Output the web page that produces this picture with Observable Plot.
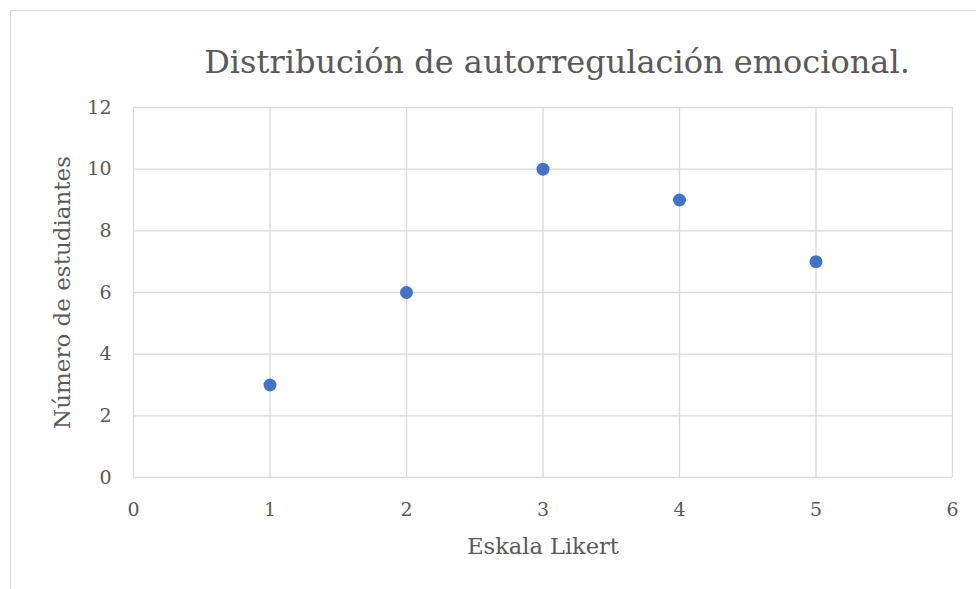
<!DOCTYPE html>
<html>
<head>
<meta charset="utf-8">
<script src="https://cdn.jsdelivr.net/npm/d3@7"></script>
<script src="https://cdn.jsdelivr.net/npm/@observablehq/plot@0.6"></script>
<style>
  html, body { margin: 0; padding: 0; background: #fff; }
  #wrap { position: relative; width: 976px; height: 589px; overflow: hidden; }
  #border { position: absolute; left: 10px; top: 10px; width: 1000px; height: 1000px; border: 1px solid #d9d9d9; box-sizing: border-box; }
  #chart { position: absolute; left: 0; top: 0; }
</style>
</head>
<body>
<div id="wrap"><div id="border"></div><div id="chart"></div></div>
<script>
const title = "Distribución de autorregulación emocional.";
const xLabel = "Eskala Likert";
const yLabel = "Número de estudiantes";
const likert = [1, 2, 3, 4, 5];
const students = [3, 6, 10, 9, 7];
const xTicks = [0, 1, 2, 3, 4, 5, 6];
const yTicks = [0, 2, 4, 6, 8, 10, 12];

const data = likert.map((x, i) => ({x, y: students[i]}));
const font = "'DejaVu Serif', serif";

const plot = Plot.plot({
  width: 976,
  height: 589,
  marginLeft: 133,
  marginRight: 24,
  marginTop: 107,
  marginBottom: 112,
  style: {fontFamily: font, background: "transparent", overflow: "visible"},
  x: {domain: [0, 6], label: null},
  y: {domain: [0, 12], label: null},
  marks: [
    Plot.ruleX(xTicks, {stroke: "#d9d9d9", strokeWidth: 1.3}),
    Plot.ruleY(yTicks, {stroke: "#d9d9d9", strokeWidth: 1.3}),
    Plot.axisX({ticks: xTicks, tickFormat: d3.format("d"), tickSize: 0, tickPadding: 25, fontSize: 19, fill: "#595959", label: null}),
    Plot.axisY({ticks: yTicks, tickFormat: d3.format("d"), tickSize: 0, tickPadding: 22, fontSize: 19, fill: "#595959", label: null}),
    Plot.dot(data, {x: "x", y: "y", r: 6.5, fill: "#4472c4", stroke: "none"}),
    Plot.text([title], {frameAnchor: "top", dy: -57, dx: 14, fontSize: 32, fill: "#595959", fontFamily: font}),
    Plot.text([xLabel], {frameAnchor: "bottom", dy: 76, fontSize: 22.5, fill: "#595959", fontFamily: font}),
    Plot.text([yLabel], {frameAnchor: "left", dx: -71, rotate: -90, textAnchor: "middle", fontSize: 23, fill: "#595959", fontFamily: font})
  ]
});
document.getElementById("chart").appendChild(plot);
</script>
</body>
</html>
